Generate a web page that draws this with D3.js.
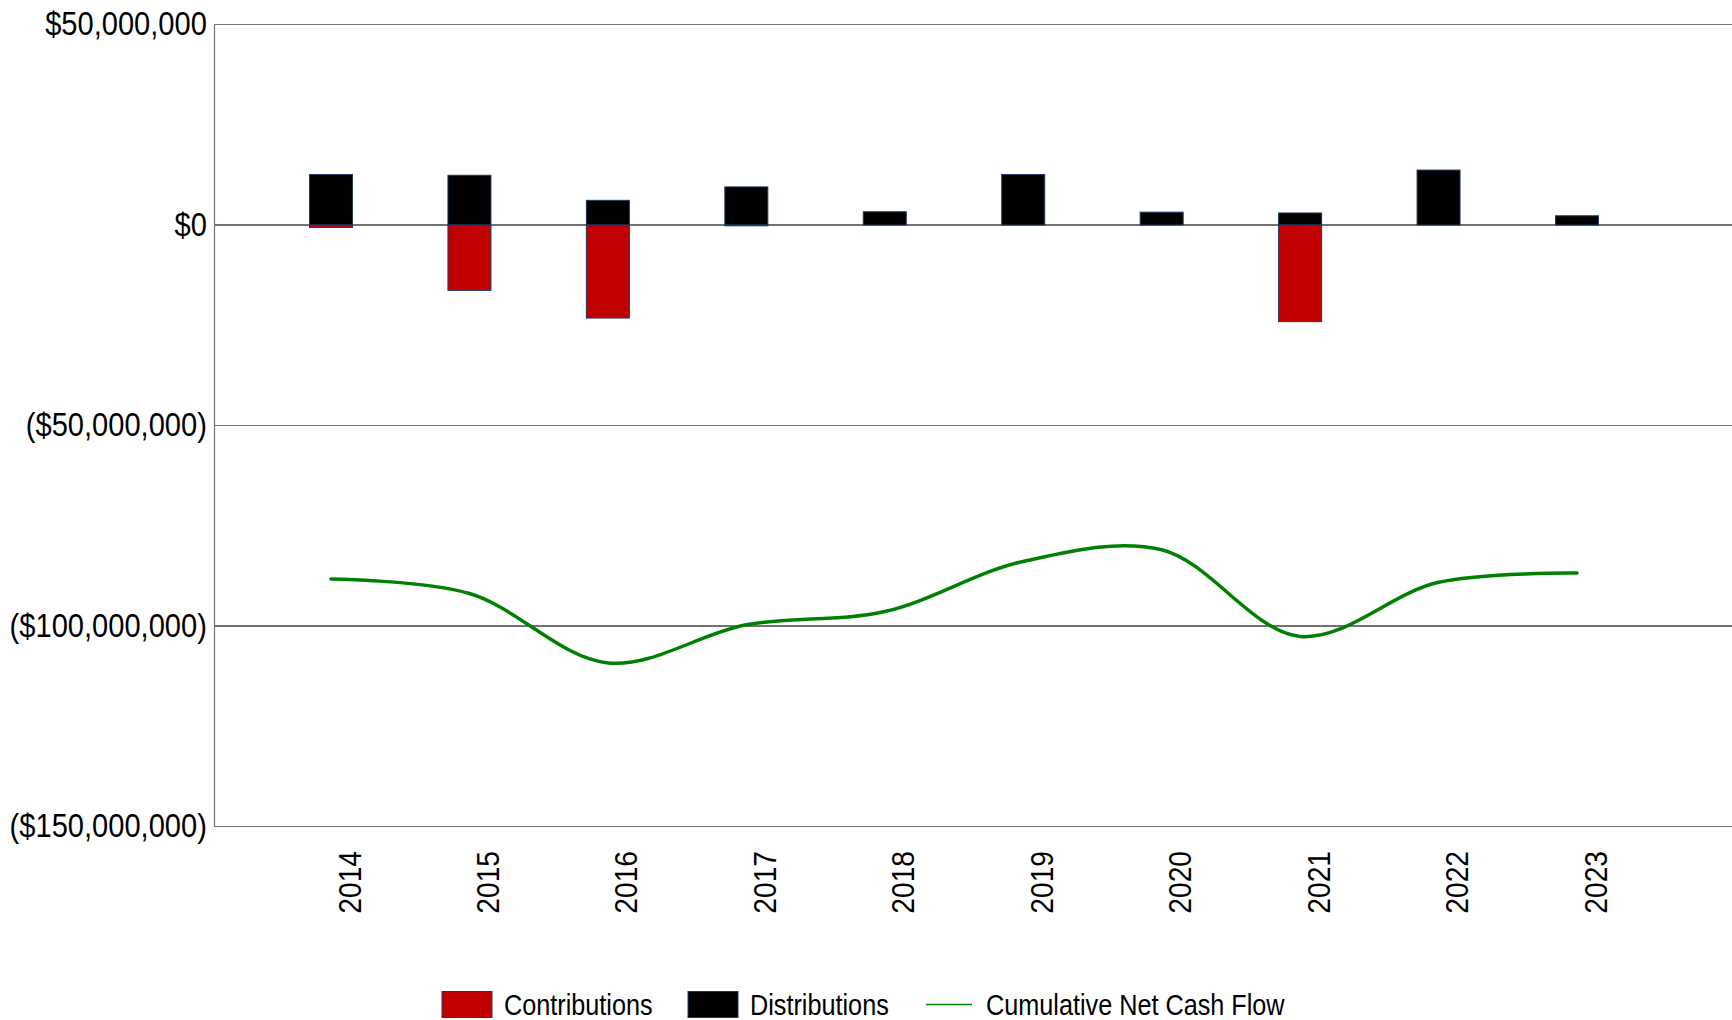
<!DOCTYPE html>
<html>
<head>
<meta charset="utf-8">
<script src="https://cdn.jsdelivr.net/npm/d3@7"></script>
<style>
  html, body { margin: 0; padding: 0; background: #fff; }
  svg { display: block; }
  text { font-family: "Liberation Sans", Arial, sans-serif; fill: #000; }
</style>
</head>
<body>
<svg id="chart" width="1732" height="1020"></svg>
<script>
const years = ["2014","2015","2016","2017","2018","2019","2020","2021","2022","2023"];
const contributions = [-0.6e6, -16.3e6, -23.2e6, -0.2e6, 0, 0, 0, -24.1e6, 0, 0];
const distributions = [12.6e6, 12.4e6, 6.15e6, 9.5e6, 3.3e6, 12.6e6, 3.2e6, 3.0e6, 13.7e6, 2.3e6];
const cumulative = [-88.3e6, -91.9e6, -109.2e6, -99.7e6, -96.4e6, -83.9e6, -81.0e6, -102.6e6, -89.1e6, -86.8e6];
const yTicks = [50e6, 0, -50e6, -100e6, -150e6];
const legendLabels = ["Contributions", "Distributions", "Cumulative Net Cash Flow"];

const svg = d3.select("#chart");
const plotLeft = 214, plotRight = 1732, plotTop = 24.5, plotBottom = 826.5;
const barW = 43;
const narrow = 0.87;
const gridColor = "#737373";

const x = d3.scalePoint().domain(years).range([331, 1577]);
const y = d3.scaleLinear().domain([-150e6, 50e6]).range([plotBottom, plotTop]);

const fmt = d3.format(",");
const yFmt = v => v >= 0 ? "$" + fmt(v) : "($" + fmt(-v) + ")";

// gridlines
svg.append("g").selectAll("line").data(yTicks).join("line")
  .attr("x1", plotLeft).attr("x2", plotRight)
  .attr("y1", d => y(d)).attr("y2", d => y(d))
  .attr("stroke", gridColor).attr("stroke-width", 1.2).attr("shape-rendering", "crispEdges");

// y axis
const yAxis = svg.append("g").attr("transform", `translate(${plotLeft},0)`)
  .call(d3.axisLeft(y).tickValues(yTicks).tickSize(0).tickPadding(8).tickFormat(yFmt));
yAxis.select(".domain").attr("stroke", gridColor).attr("stroke-width", 1.2);
yAxis.selectAll("text").style("font-size", "32.5px").attr("fill", "#000")
  .style("font-family", '"Liberation Sans", Arial, sans-serif')
  .attr("transform", `scale(0.895,1)`);

// bars
const barStroke = "#203864";
svg.append("g").selectAll("rect").data(years.map((yr, i) => ({yr, v: distributions[i]}))).join("rect")
  .attr("x", d => x(d.yr) - barW / 2).attr("width", barW)
  .attr("y", d => y(Math.max(0, d.v))).attr("height", d => Math.abs(y(d.v) - y(0)))
  .attr("fill", "#000").attr("stroke", barStroke).attr("stroke-width", 1);
svg.append("g").selectAll("rect").data(years.map((yr, i) => ({yr, v: contributions[i]})).filter(d => d.v !== 0)).join("rect")
  .attr("x", d => x(d.yr) - barW / 2).attr("width", barW)
  .attr("y", d => y(Math.max(0, d.v))).attr("height", d => Math.abs(y(d.v) - y(0)))
  .attr("fill", "#C00000").attr("stroke", barStroke).attr("stroke-width", 1);

// cumulative line
const line = d3.line().x((d, i) => x(years[i])).y(d => y(d)).curve(d3.curveCatmullRom.alpha(0.5));
svg.append("path").datum(cumulative).attr("d", line)
  .attr("fill", "none").attr("stroke", "#008000").attr("stroke-width", 3.5)
  .attr("stroke-linecap", "round");

// x labels
const xFs = 32;
svg.append("g").selectAll("text").data(years).join("text")
  .attr("transform", d => `translate(${x(d) + 18},851) rotate(-90) scale(0.88,1)`)
  .attr("text-anchor", "end").attr("dy", "0.36em")
  .style("font-size", xFs + "px")
  .text(d => d);

// legend
const lg = svg.append("g");
const legFs = 29, legY = 1004.5;
const items = [
  {label: legendLabels[0], type: "rect", color: "#C00000", x: 442},
  {label: legendLabels[1], type: "rect", color: "#000", x: 688},
  {label: legendLabels[2], type: "line", color: "#008000", x: 926}
];
items.forEach(it => {
  if (it.type === "rect") {
    lg.append("rect").attr("x", it.x).attr("y", legY - 13).attr("width", 50).attr("height", 26)
      .attr("fill", it.color).attr("stroke", barStroke).attr("stroke-width", 1);
    lg.append("text").attr("transform", `translate(${it.x + 62},${legY}) scale(${narrow},1)`).attr("dy", "0.36em")
      .style("font-size", legFs + "px").text(it.label);
  } else {
    lg.append("line").attr("x1", it.x).attr("x2", it.x + 46).attr("y1", legY).attr("y2", legY)
      .attr("stroke", it.color).attr("stroke-width", 1.5);
    lg.append("text").attr("transform", `translate(${it.x + 60},${legY}) scale(${narrow},1)`).attr("dy", "0.36em")
      .style("font-size", legFs + "px").text(it.label);
  }
});
</script>
</body>
</html>
